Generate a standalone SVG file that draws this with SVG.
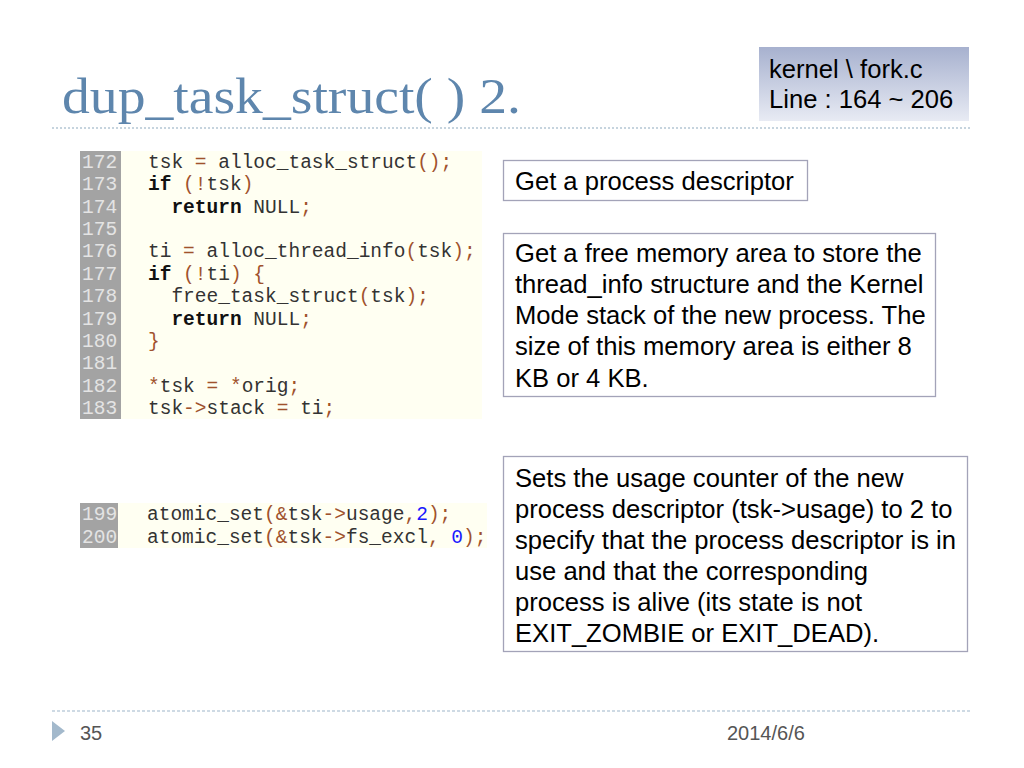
<svg xmlns="http://www.w3.org/2000/svg" width="1024" height="768" viewBox="0 0 1024 768">
<defs>
<linearGradient id="gb" x1="0" y1="0" x2="0" y2="1">
<stop offset="0" stop-color="#a7b1cf"/>
<stop offset="1" stop-color="#e8ebf4"/>
</linearGradient>
<style>
.code{font-family:"Liberation Mono","Courier New",monospace;font-size:19.5px;fill:#333;white-space:pre}
.ln{font-family:"Liberation Mono","Courier New",monospace;font-size:19.5px;fill:#e4e4e4}
.p{fill:#a0522d}
.n{fill:#1a1aff}
.b{font-weight:bold;fill:#111}
.box{fill:#fff;stroke:#a3a3b8;stroke-width:1.3}
.t{font-family:"Liberation Sans",Arial,sans-serif;font-size:25.6px;fill:#000}
.foot{font-family:"Liberation Sans",Arial,sans-serif;font-size:20px;fill:#555}
</style>
</defs>
<rect width="1024" height="768" fill="#fff"/>
<g id="title">
<text x="62" y="113" font-family="Liberation Serif,Times New Roman,serif" font-size="50" fill="#5e86ad" textLength="459" lengthAdjust="spacingAndGlyphs">dup_task_struct( ) 2.</text>
<line x1="52" y1="128" x2="970" y2="128" stroke="#b4c6d4" stroke-width="1.5" stroke-dasharray="2 2"/>
</g>
<g id="fileref">
<rect x="759" y="47" width="210" height="74" fill="url(#gb)"/>
<text class="t" x="769" y="78" font-size="24.6">kernel \ fork.c</text>
<text class="t" x="769" y="108" font-size="24.6">Line : 164 ~ 206</text>
</g>
<g id="code1">
<rect x="80" y="151" width="402" height="268" fill="#fffff2"/>
<rect x="80" y="151" width="41" height="268" fill="#a3a3a3"/>
<text class="ln" x="82" y="168">172</text>
<text class="ln" x="82" y="190.4">173</text>
<text class="ln" x="82" y="212.7">174</text>
<text class="ln" x="82" y="235.1">175</text>
<text class="ln" x="82" y="257.4">176</text>
<text class="ln" x="82" y="279.8">177</text>
<text class="ln" x="82" y="302.2">178</text>
<text class="ln" x="82" y="324.5">179</text>
<text class="ln" x="82" y="346.9">180</text>
<text class="ln" x="82" y="369.2">181</text>
<text class="ln" x="82" y="391.6">182</text>
<text class="ln" x="82" y="414">183</text>
<text class="code" x="148" y="168">tsk <tspan class="p">=</tspan> alloc_task_struct<tspan class="p">();</tspan></text>
<text class="code" x="148" y="190.4"><tspan class="b">if</tspan> <tspan class="p">(!</tspan>tsk<tspan class="p">)</tspan></text>
<text class="code" x="148" y="212.7">  <tspan class="b">return</tspan> NULL<tspan class="p">;</tspan></text>
<text class="code" x="148" y="257.4">ti <tspan class="p">=</tspan> alloc_thread_info<tspan class="p">(</tspan>tsk<tspan class="p">);</tspan></text>
<text class="code" x="148" y="279.8"><tspan class="b">if</tspan> <tspan class="p">(!</tspan>ti<tspan class="p">) {</tspan></text>
<text class="code" x="148" y="302.2">  free_task_struct<tspan class="p">(</tspan>tsk<tspan class="p">);</tspan></text>
<text class="code" x="148" y="324.5">  <tspan class="b">return</tspan> NULL<tspan class="p">;</tspan></text>
<text class="code" x="148" y="346.9"><tspan class="p">}</tspan></text>
<text class="code" x="148" y="391.6"><tspan class="p">*</tspan>tsk <tspan class="p">= *</tspan>orig<tspan class="p">;</tspan></text>
<text class="code" x="148" y="414">tsk<tspan class="p">-&gt;</tspan>stack <tspan class="p">=</tspan> ti<tspan class="p">;</tspan></text>
</g>
<g id="code2">
<rect x="80" y="503" width="407" height="45" fill="#fffff2"/>
<rect x="80" y="503" width="38" height="45" fill="#a3a3a3"/>
<text class="ln" x="82" y="520">199</text>
<text class="ln" x="82" y="543">200</text>
<text class="code" x="147" y="520">atomic_set<tspan class="p">(&amp;</tspan>tsk<tspan class="p">-&gt;</tspan>usage<tspan class="p">,</tspan><tspan class="n">2</tspan><tspan class="p">);</tspan></text>
<text class="code" x="147" y="543">atomic_set<tspan class="p">(&amp;</tspan>tsk<tspan class="p">-&gt;</tspan>fs_excl<tspan class="p">,</tspan> <tspan class="n">0</tspan><tspan class="p">);</tspan></text>
</g>
<g id="note1">
<rect class="box" x="503.5" y="160.5" width="304" height="40"/>
<text class="t" x="515" y="190">Get a process descriptor</text>
</g>
<g id="note2">
<rect class="box" x="503.5" y="233.5" width="432" height="163"/>
<text class="t" x="515" y="262">Get a free memory area to store the</text>
<text class="t" x="515" y="293">thread_info structure and the Kernel</text>
<text class="t" x="515" y="324">Mode stack of the new process. The</text>
<text class="t" x="515" y="355">size of this memory area is either 8</text>
<text class="t" x="515" y="387">KB or 4 KB.</text>
</g>
<g id="note3">
<rect class="box" x="503.5" y="456.5" width="464" height="195"/>
<text class="t" x="515" y="487">Sets the usage counter of the new</text>
<text class="t" x="515" y="518">process descriptor (tsk-&gt;usage) to 2 to</text>
<text class="t" x="515" y="549">specify that the process descriptor is in</text>
<text class="t" x="515" y="580">use and that the corresponding</text>
<text class="t" x="515" y="611">process is alive (its state is not</text>
<text class="t" x="515" y="642">EXIT_ZOMBIE or EXIT_DEAD).</text>
</g>
<g id="footer">
<line x1="52" y1="711" x2="970" y2="711" stroke="#9db6ca" stroke-width="1.2" stroke-dasharray="3 2"/>
<polygon points="52,721 65,731 52,741" fill="#a3b9cc"/>
<text class="foot" x="80" y="740">35</text>
<text class="foot" x="727" y="740">2014/6/6</text>
</g>
</svg>
